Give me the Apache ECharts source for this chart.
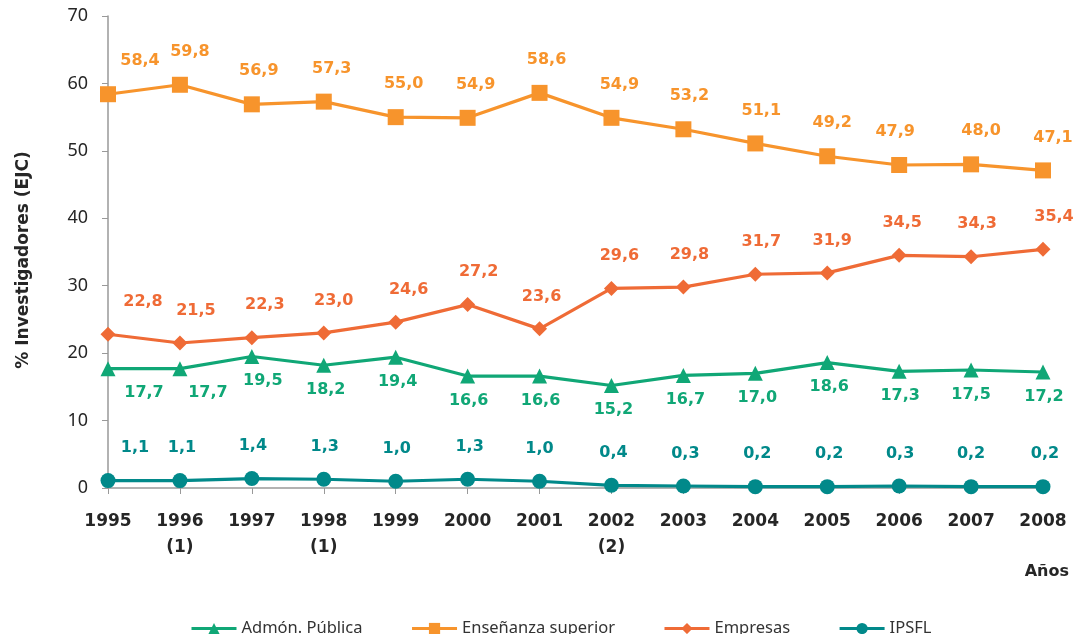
<!DOCTYPE html>
<html>
<head>
<meta charset="utf-8">
<script src="https://cdn.jsdelivr.net/npm/echarts@6/dist/echarts.min.js"></script>
<style>
html,body{margin:0;padding:0;background:#fff;}
#chart{width:1076px;height:634px;}
</style>
</head>
<body>
<div id="chart"></div>
<script>
var years=["1995","1996\n(1)","1997","1998\n(1)","1999","2000","2001","2002\n(2)","2003","2004","2005","2006","2007","2008"];
var admon=[17.7,17.7,19.5,18.2,19.4,16.6,16.6,15.2,16.7,17.0,18.6,17.3,17.5,17.2];
var ensenanza=[58.4,59.8,56.9,57.3,55.0,54.9,58.6,54.9,53.2,51.1,49.2,47.9,48.0,47.1];
var empresas=[22.8,21.5,22.3,23.0,24.6,27.2,23.6,29.6,29.8,31.7,31.9,34.5,34.3,35.4];
var ipsfl=[1.1,1.1,1.4,1.3,1.0,1.3,1.0,0.4,0.3,0.2,0.2,0.3,0.2,0.2];
var yTicks=[0,10,20,30,40,50,60,70];

// horizontal nudges of the value labels (style only)
var admDx=[36,28,11,2,2,1,1,2,2,2,2,1,0,1];
var ensDx=[32,10,7,8,8,8,7,8,6,6,5,-4,10,10];
var empDx=[35,16,13,10,13,11,2,8,6,6,5,3,6,11];
var ipsDx=[27,2,1,1,1,2,0,2,2,2,2,1,0,2];

var font="Noto Sans";
var boldFont="DejaVu Sans";
var chart=echarts.init(document.getElementById('chart'));

function comma(p){
	return p.value.toFixed(1).replace('.',',');
}
function mkSeries(name,data,dx,color,symbol,size,pos,dist){
	return {
		name:name,
		type:'line',
		data:data.map(function(v,i){
			return {value:v,label:{offset:[dx[i],0]}};
		}),
		symbol:symbol,
		symbolSize:size,
		lineStyle:{width:3.2,color:color},
		itemStyle:{color:color},
		label:{
			show:true,
			position:pos,
			distance:dist,
			color:color,
			fontFamily:boldFont,
			fontWeight:'bold',
			fontSize:16,
			formatter:comma
		},
		animation:false
	};
}

var option={
	grid:{left:108,right:33,top:16,bottom:146,containLabel:false},
	legend:{
		top:615,
		left:185,
		itemWidth:45,
		itemHeight:14,
		itemGap:48,
		lineStyle:{width:3},
		textStyle:{fontFamily:font,fontSize:16.5,color:'#333'},
		data:['Admón. Pública','Enseñanza superior','Empresas','IPSFL']
	},
	xAxis:{
		type:'category',
		data:years,
		boundaryGap:false,
		name:'Años',
		nameLocation:'end',
		nameGap:0,
		nameTextStyle:{fontFamily:boldFont,fontWeight:'bold',fontSize:16,color:'#262626',
			align:'right',verticalAlign:'top',padding:[76,-26,0,0]},
		axisLine:{lineStyle:{color:'#999',width:1.5}},
		axisTick:{show:true,alignWithLabel:true,length:6,lineStyle:{color:'#999'}},
		axisLabel:{fontFamily:boldFont,fontWeight:'bold',fontSize:17,color:'#262626',margin:21,lineHeight:26,interval:0}
	},
	yAxis:{
		type:'value',
		min:yTicks[0],
		max:yTicks[yTicks.length-1],
		interval:10,
		name:'% Investigadores (EJC)',
		nameLocation:'middle',
		nameGap:76,
		nameTextStyle:{fontFamily:boldFont,fontWeight:'bold',fontSize:17,color:'#262626',padding:[0,16,0,0]},
		axisLine:{show:true,lineStyle:{color:'#999',width:1.5}},
		axisTick:{show:true,length:6,lineStyle:{color:'#999'}},
		splitLine:{show:false},
		axisLabel:{fontFamily:font,fontSize:18,color:'#262626',margin:20}
	},
	series:[
		mkSeries('Admón. Pública',admon,admDx,'#10a776','triangle',15,'bottom',9),
		mkSeries('Enseñanza superior',ensenanza,ensDx,'#f7942c','rect',16,'top',17),
		mkSeries('Empresas',empresas,empDx,'#ef6b36','diamond',15,'top',17),
		mkSeries('IPSFL',ipsfl,ipsDx,'#01898a','circle',15,'top',17)
	]
};
chart.setOption(option);
</script>
</body>
</html>
